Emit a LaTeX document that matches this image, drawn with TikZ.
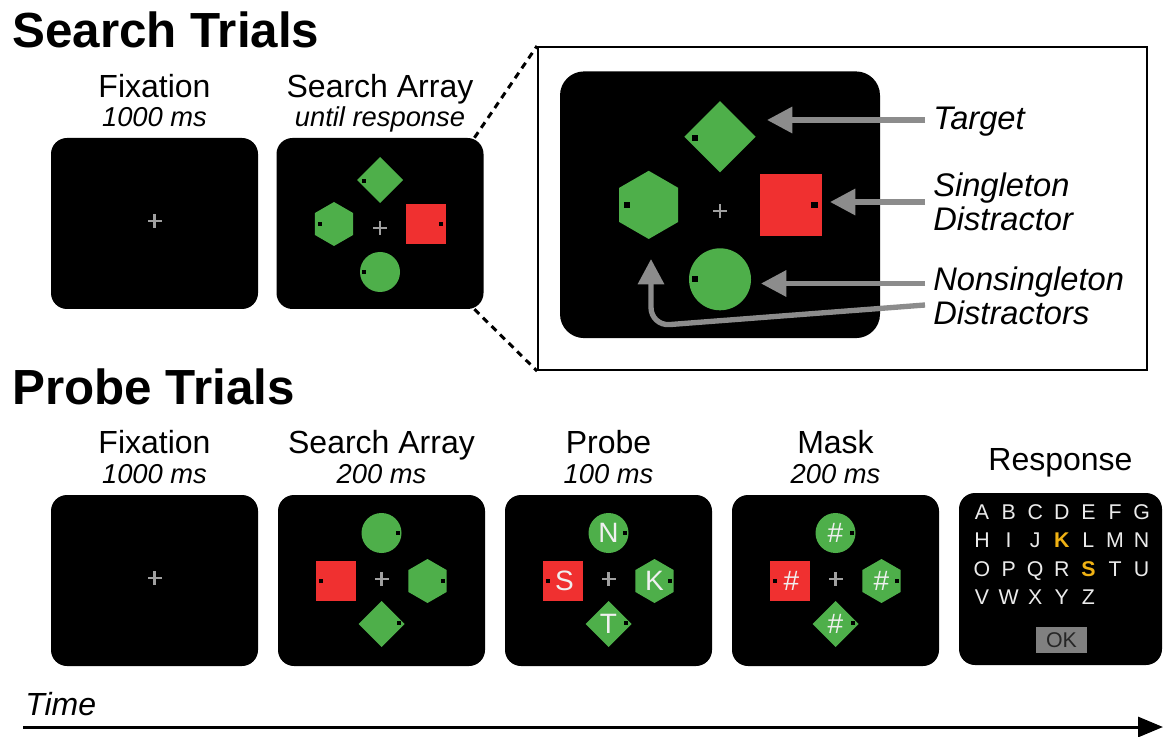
\documentclass[tikz,border=0pt]{standalone}
\usepackage{fontspec}
\setmainfont{Liberation Sans}
\usetikzlibrary{arrows.meta, positioning}

\definecolor{stimgreen}{RGB}{78,175,74}
\definecolor{stimred}{RGB}{240,48,48}
\definecolor{crossgray}{RGB}{160,160,160}
\definecolor{pointergray}{RGB}{140,140,140}
\definecolor{pickgold}{RGB}{240,178,20}
\definecolor{okgray}{RGB}{128,128,128}

\newcommand{\hl}[1]{\textcolor{pickgold}{\bfseries #1}}

\tikzset{
    fixcross/.pic={
        \fill[crossgray] (-7,-1.1) rectangle (7,1.1);
        \fill[crossgray] (-1.1,-7) rectangle (1.1,7);
    },
    searchset/.pic={
        % target diamond
        \fill[stimgreen] (0,-69) -- (23,-46) -- (0,-23) -- (-23,-46) -- cycle;
        \fill[black] (-18,-47) rectangle (-14,-43);
        % hexagon
        \fill[stimgreen] (-46,-2) +(90:22) -- +(150:22) -- +(210:22) -- +(270:22) -- +(330:22) -- +(30:22) -- cycle;
        \fill[black] (-62,-4) rectangle (-58,0);
        % red singleton
        \fill[stimred] (26,-22) rectangle (66,18);
        \fill[black] (59,-4) rectangle (63,0);
        % circle
        \fill[stimgreen] (0,46) circle (20);
        \fill[black] (-18,44) rectangle (-14,48);
        \pic at (0,2) {fixcross};
    }
}

\begin{document}
\begin{tikzpicture}[x=0.75pt, y=-0.75pt,
    screen/.style={fill=black, rounded corners=12pt, minimum width=155.25pt, minimum height=128.25pt, inner sep=0pt},
    heading/.style={anchor=base west, inner sep=0pt, font=\fontsize{37}{40}\selectfont\bfseries},
    stage/.style={anchor=base, inner sep=0pt, font=\fontsize{24}{26}\selectfont},
    timing/.style={anchor=base, inner sep=0pt, font=\fontsize{20.5}{22}\selectfont\itshape},
    tag/.style={inner xsep=6pt, inner ysep=0pt, align=left, font=\fontsize{24.5}{25.5}\selectfont\itshape},
    pointer/.style={draw=pointergray, line width=4pt, -{Triangle[length=19pt, width=19pt]}},
    zoomline/.style={line width=2.25pt, dash pattern=on 5pt off 4pt},
    letter/.style={text=white!94!black, inner sep=0pt, font=\fontsize{21}{21}\selectfont},
    key/.style={text=white!92!black, inner sep=0pt, anchor=base, font=\fontsize{16}{16}\selectfont}]
    \useasboundingbox (0,0) rectangle (1166,737);

    \node[heading] (searchtitle) at (12,48) {Search Trials};
    \node[heading] (probetitle) at (12,404) {Probe Trials};

    % search trials
    \node[screen] (fixA) at (154.5,223.5) {};
    \node[screen] (searchA) at (380,223.5) {};
    \pic at (154.5,221) {fixcross};
    \pic at (380,226) {searchset};
    \node[stage] (fixAname) at (154.5,98) {Fixation};
    \node[timing] (fixAtime) at (154.5,127) {1000 ms};
    \node[stage] (searchAname) at (380,98) {Search Array};
    \node[timing] (searchAtime) at (380,127) {until response};

    % enlarged array
    \node[draw, line width=1.5pt, fill=white, minimum width=456.75pt, minimum height=242.25pt, inner sep=0pt] (zoombox) at (842.5,208.5) {};
    \draw[zoomline] ([xshift=-7pt]searchA.north east) -- (zoombox.north west);
    \draw[zoomline] ([xshift=-7pt]searchA.south east) -- (zoombox.south west);
    \node[screen, rounded corners=18pt, minimum width=240pt, minimum height=200pt] (bigscreen) at (720,204.75) {};
    \pic[scale=1.55] at (720,208) {searchset};

    \coordinate (targettip) at (767,120);
    \coordinate (singletip) at (830,202);
    \coordinate (nonsingletip) at (761,283.5);
    \coordinate (lowfork) at (920,305);
    \coordinate (bend) at (651,326);
    \coordinate (hextip) at (651,259);
    \node[tag, anchor=base west] (target) at (925,129.5) {Target};
    \node[tag, anchor=north west] (singleton) at (925,173) {Singleton\\Distractor};
    \node[tag, anchor=north west] (nonsingleton) at (925,267) {Nonsingleton\\Distractors};
    \draw[pointer] (target.west |- targettip) -- (targettip);
    \draw[pointer] (singleton.west |- singletip) -- (singletip);
    \draw[pointer] (nonsingleton.west |- nonsingletip) -- (nonsingletip);
    \draw[pointer, rounded corners=14pt] (nonsingleton.west |- lowfork) -- (bend) -- (hextip);

    % probe trials
    \foreach \cx/\what/\when [count=\k] in {154.5/Fixation/1000 ms, 381.5/Search Array/200 ms, 608.5/Probe/100 ms, 835.5/Mask/200 ms} {
        \node[screen] (scrB\k) at (\cx,580.5) {};
        \node[stage] (nameB\k) at (\cx,453) {\what};
        \node[timing] (timeB\k) at (\cx,483) {\when};
    }
    \pic at (154.5,578) {fixcross};

    \foreach \cx/\up/\lf/\rt/\dn [count=\k] in {381.5/{}/{}/{}/{}, 608.5/N/S/K/T, 835.5/\#/\#/\#/\#} {
        \fill[stimgreen] (\cx,533) circle (20);
        \fill[black] (\cx+14,531) rectangle ++(4,4);
        \fill[stimred] (\cx-65.5,561) rectangle (\cx-25.5,601);
        \fill[black] (\cx-63,579) rectangle ++(4,4);
        \fill[stimgreen] (\cx+46,581) +(90:22) -- +(150:22) -- +(210:22) -- +(270:22) -- +(330:22) -- +(30:22) -- cycle;
        \fill[black] (\cx+59,579) rectangle ++(4,4);
        \fill[stimgreen] (\cx,601) -- (\cx+23,624) -- (\cx,647) -- (\cx-23,624) -- cycle;
        \fill[black] (\cx+15,621) rectangle ++(4,4);
        \pic at (\cx,579) {fixcross};
        \node[letter] (up\k) at (\cx,533) {\up};
        \node[letter] (lf\k) at (\cx-44,581) {\lf};
        \node[letter] (rt\k) at (\cx+46,581) {\rt};
        \node[letter] (dn\k) at (\cx,624) {\dn};
    }

    % letter choice
    \node[screen, minimum width=152.25pt, minimum height=129pt] (respB) at (1060.5,579) {};
    \node[stage] (respname) at (1060.5,470) {Response};
    \foreach \row [count=\j from 0] in {{A,B,C,D,E,F,G},{H,I,J,\hl{K},L,M,N},{O,P,Q,R,\hl{S},T,U},{V,W,X,Y,Z}} {
        \foreach \l [count=\i from 0] in \row {
            \node[key] (key\j\i) at (982+26.6*\i,519+28.5*\j) {\l};
        }
    }
    \node[fill=okgray, minimum width=38pt, minimum height=19.5pt, inner sep=0pt, text=black!85, font=\fontsize{16}{16}\selectfont] (okbtn) at (1061.5,640) {OK};

    % time axis
    \node[anchor=base west, inner sep=0pt, font=\fontsize{24}{26}\selectfont\itshape] (timelabel) at (25,715) {Time};
    \coordinate (tstart) at (23,727);
    \coordinate (tend) at (1163,727);
    \draw[line width=2.25pt, -{Triangle[length=18.75pt, width=15pt]}] (tstart) -- (tend);
\end{tikzpicture}
\end{document}
